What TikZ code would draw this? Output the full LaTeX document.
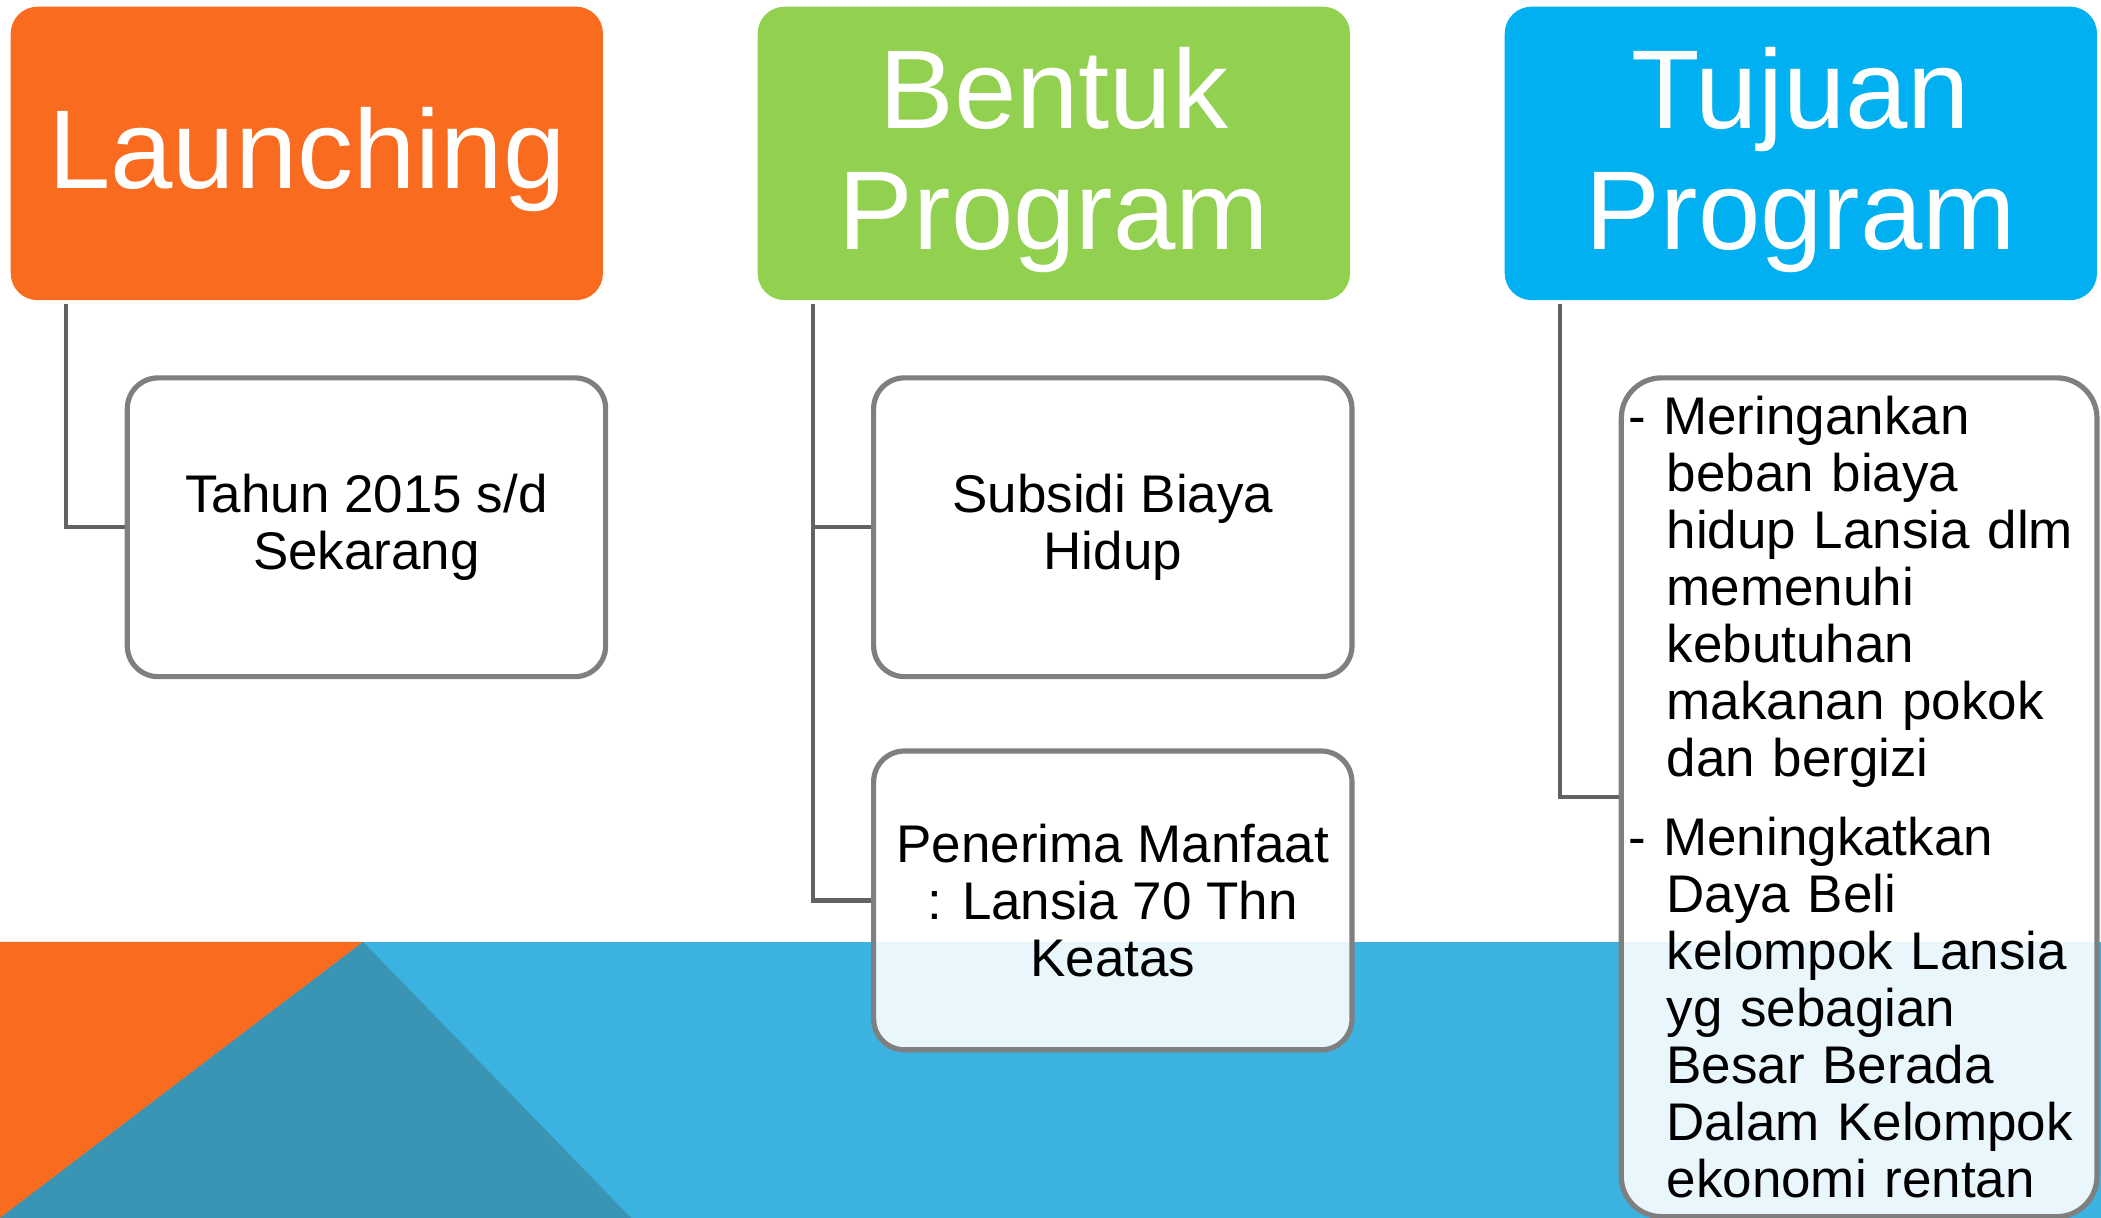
\documentclass[tikz,border=0pt]{standalone}
\usepackage{fontspec}
\setmainfont{Liberation Sans}
\definecolor{hOrange}{HTML}{F96B1E}
\definecolor{hGreen}{HTML}{92D050}
\definecolor{hBlue}{HTML}{00B0F0}
\definecolor{bandBlue}{HTML}{3BB2DF}
\definecolor{bandTeal}{HTML}{3A95B5}
\definecolor{connGray}{HTML}{626262}
\definecolor{boxGray}{HTML}{7F7F80}
\newcommand{\hstrut}{\rule{0pt}{20pt}}
\begin{document}
\begin{tikzpicture}[x=0.1mm,y=-0.1mm,
  head/.style={fill=#1, rounded corners=2mm, minimum width=44.2mm, minimum height=21.9mm,
    text=white, align=center, font=\fontsize{23.8}{25.6}\selectfont, inner sep=0pt},
  child/.style={draw=boxGray, line width=1.1pt, fill=white, fill opacity=0.89, text opacity=1,
    rounded corners=2.3mm, minimum width=35.7mm, minimum height=22.3mm, align=center,
    font=\fontsize{11.25}{12.1}\selectfont, inner sep=0pt},
  conn/.style={draw=connGray, line width=0.95pt}]
\useasboundingbox (0,0) rectangle (1568,909);
% background band
\fill[bandBlue] (0,703) rectangle (1568,909);
\fill[hOrange] (0,703) -- (271,703) -- (0,909) -- cycle;
\fill[bandTeal] (271,703) -- (0,909) -- (471,909) -- cycle;
% header boxes
\node[head=hOrange] (h1) at (229,114.5) {\hstrut Launching};
\node[head=hGreen] (h2) at (786.5,114.5) {\hstrut Bentuk\\Program};
\node[head=hBlue] (h3) at (1344,114.5) {\hstrut Tujuan\\Program};
% child boxes
\node[child] (c1) at (273.5,393.5) {Tahun 2015 s/d\\Sekarang};
\node[child] (c2) at (830.5,393.5) {Subsidi Biaya\\Hidup};
\node[child] (c3) at (830.5,672) {Penerima Manfaat\\: Lansia 70 Thn\\Keatas};
\node[child, rounded corners=3mm, minimum width=0pt, minimum height=62.6mm, text width=34.5mm,
  inner xsep=0.5mm, align=left] (c4) at (1387.5,595)
  {- Meringankan\\
   \hspace*{8.2pt}beban biaya\\
   \hspace*{8.2pt}hidup Lansia dlm\\
   \hspace*{8.2pt}memenuhi\\
   \hspace*{8.2pt}kebutuhan\\
   \hspace*{8.2pt}makanan pokok\\
   \hspace*{8.2pt}dan bergizi\\[4.8pt]
   - Meningkatkan\\
   \hspace*{8.2pt}Daya Beli\\
   \hspace*{8.2pt}kelompok Lansia\\
   \hspace*{8.2pt}yg sebagian\\
   \hspace*{8.2pt}Besar Berada\\
   \hspace*{8.2pt}Dalam Kelompok\\
   \hspace*{8.2pt}ekonomi rentan};
% connectors
\draw[conn] ([xshift=4.2mm,yshift=-0.2mm]h1.south west) |- (c1.west);
\draw[conn] ([xshift=4.2mm,yshift=-0.2mm]h2.south west) |- (c2.west);
\draw[conn] ([xshift=4.2mm,yshift=-0.2mm]h2.south west) |- (c3.west);
\draw[conn] ([xshift=4.2mm,yshift=-0.2mm]h3.south west) |- (c4.west);
\end{tikzpicture}
\end{document}
